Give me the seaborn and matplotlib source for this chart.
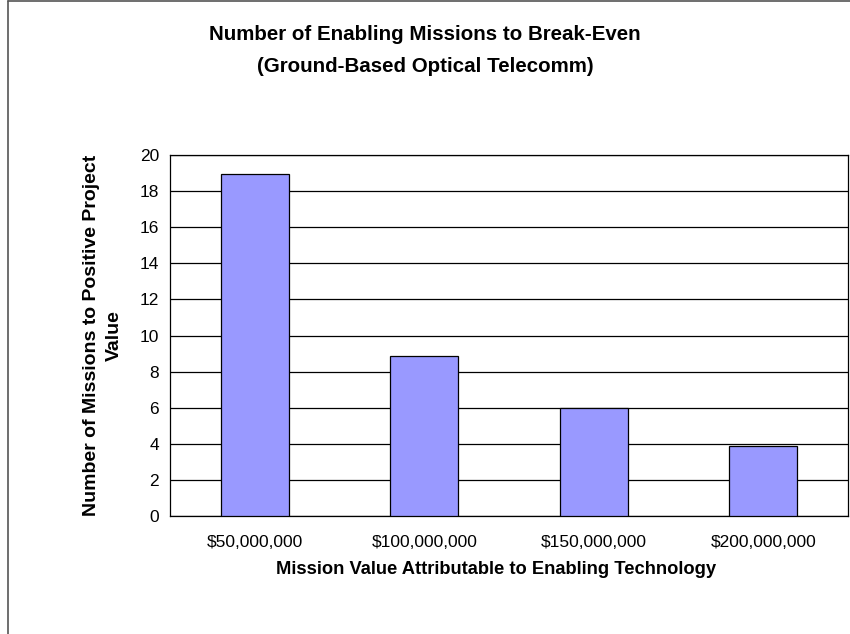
import matplotlib
matplotlib.use("Agg")
import matplotlib.pyplot as plt
from matplotlib.lines import Line2D
import seaborn as sns
import pandas as pd

# Break-even mission counts per assumed mission value
mission_values = ["$50,000,000", "$100,000,000", "$150,000,000", "$200,000,000"]
missions_to_break_even = [18.95, 8.85, 6.0, 3.9]
y_ticks = [0, 2, 4, 6, 8, 10, 12, 14, 16, 18, 20]

df = pd.DataFrame({"value": mission_values, "missions": missions_to_break_even})

sns.set_theme(style="white")
plt.rcParams["font.family"] = ["Liberation Sans", "DejaVu Sans"]
plt.rcParams["text.color"] = "black"
plt.rcParams["axes.labelcolor"] = "black"
plt.rcParams["xtick.color"] = "black"
plt.rcParams["ytick.color"] = "black"

fig = plt.figure(figsize=(8.5, 6.34), dpi=100)
ax = fig.add_axes([170 / 850, 1 - 516 / 634, (848 - 170) / 850, (516 - 155) / 634])

sns.barplot(data=df, x="value", y="missions", color="#9999FF", width=0.4,
            edgecolor="black", linewidth=0.9, saturation=1, ax=ax, zorder=3)

ax.set_ylim(0, 20)
ax.set_xlim(-0.5, len(mission_values) - 0.5)
ax.set_yticks(y_ticks)
ax.set_yticklabels([str(t) for t in y_ticks], fontsize=12.5)
ax.yaxis.grid(True, color="black", linewidth=0.9, zorder=0)
ax.set_axisbelow(True)

# category ticks at the boundaries between groups, labels centred under bars
ax.set_xticks([i - 0.5 for i in range(len(mission_values) + 1)])
ax.set_xticklabels([])
ax.set_xticks(range(len(mission_values)), minor=True)
ax.set_xticklabels(mission_values, minor=True, fontsize=12.5)
ax.tick_params(axis="x", which="minor", length=0, pad=14)
ax.tick_params(axis="x", which="major", direction="out", length=5, width=0.9)
ax.tick_params(axis="y", direction="out", length=5, width=0.9, pad=3)

for s in ax.spines.values():
    s.set_color("black")
    s.set_linewidth(0.9)

ax.set_xlabel("Mission Value Attributable to Enabling Technology",
              fontsize=13.2, fontweight="bold")
ax.xaxis.set_label_coords((496 - 170) / 678, -(570 - 516) / 361, transform=ax.transAxes)
ax.xaxis.label.set_va("center")
ax.set_ylabel("Number of Missions to Positive Project\nValue",
              fontsize=14, fontweight="bold", linespacing=1.45)
ax.yaxis.set_label_coords(-(170 - 103) / 678, 0.5, transform=ax.transAxes)
ax.yaxis.label.set_va("center")
ax.yaxis.label.set_ha("center")

fig.text(0.5, 1 - 50.5 / 634,
         "Number of Enabling Missions to Break-Even\n(Ground-Based Optical Telecomm)",
         ha="center", va="center", fontsize=14.8, fontweight="bold", linespacing=1.8)

# chart frame on the left and top edges
fig.add_artist(Line2D([8 / 850, 8 / 850], [0, 1 - 1 / 634], color="#555555", linewidth=1.2))
fig.add_artist(Line2D([8 / 850, 1], [1 - 1 / 634, 1 - 1 / 634], color="#555555", linewidth=1.2))

fig.savefig("out.png", dpi=100, facecolor="white")
